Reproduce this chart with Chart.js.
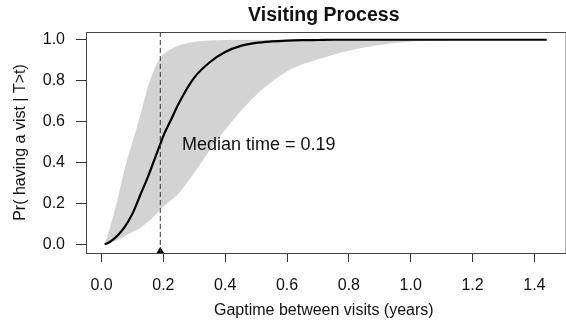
<!DOCTYPE html>
<html>
<head>
<meta charset="utf-8">
<script src="https://cdn.jsdelivr.net/npm/chart.js@4/dist/chart.umd.min.js"></script>
<style>
  html, body { margin: 0; padding: 0; background: #fff; }
  #wrap { width: 566px; height: 322px; }
</style>
</head>
<body>
<div id="wrap"><canvas id="visitChart" width="566" height="322"></canvas></div>
<script>
// gap time grid (years) and the read-off probabilities
const gapTime = [0.01, 0.025, 0.05, 0.075, 0.1, 0.125, 0.15, 0.175, 0.19, 0.2, 0.225, 0.25, 0.3, 0.35, 0.4, 0.45, 0.5, 0.55, 0.6, 0.65, 0.7, 0.75, 0.8, 0.85, 0.9, 0.95, 1.0, 1.05, 1.1, 1.2, 1.3, 1.44];
const visitProb = [0.0, 0.01, 0.04, 0.085, 0.15, 0.24, 0.33, 0.43, 0.49, 0.53, 0.61, 0.69, 0.815, 0.89, 0.94, 0.97, 0.985, 0.992, 0.996, 0.998, 0.999, 1.0, 1.0, 1.0, 1.0, 1.0, 1.0, 1.0, 1.0, 1.0, 1.0, 1.0];
const upperBand = [0.0, 0.07, 0.21, 0.37, 0.5, 0.63, 0.77, 0.87, 0.91, 0.93, 0.955, 0.972, 0.99, 0.996, 0.999, 1.0, 1.0, 1.0, 1.0, 1.0, 1.0, 1.0, 1.0, 1.0, 1.0, 1.0, 1.0, 1.0, 1.0, 1.0, 1.0, 1.0];
const lowerBand = [0.0, 0.008, 0.02, 0.04, 0.06, 0.08, 0.11, 0.145, 0.17, 0.185, 0.215, 0.25, 0.35, 0.46, 0.56, 0.65, 0.73, 0.795, 0.845, 0.88, 0.905, 0.927, 0.946, 0.962, 0.975, 0.984, 0.991, 0.995, 0.998, 0.9995, 1.0, 1.0];
const medianTime = 0.19;
const xTicks = [0.0, 0.2, 0.4, 0.6, 0.8, 1.0, 1.2, 1.4];
const yTicks = [0.0, 0.2, 0.4, 0.6, 0.8, 1.0];

const FONT = "'Liberation Sans', Arial, sans-serif";
const INK = "#111";

const toPoints = ys => gapTime.map((x, i) => ({ x: x, y: ys[i] }));

// dashed median line, box and the median label
const extras = {
    id: "extras",
    afterDatasetsDraw(chart) {
        const { ctx, chartArea, scales } = chart;
        const mx = scales.x.getPixelForValue(medianTime);
        ctx.save();
        ctx.strokeStyle = "#333";
        ctx.lineWidth = 1;
        ctx.setLineDash([5, 3]);
        ctx.beginPath();
        ctx.moveTo(mx, chartArea.top);
        ctx.lineTo(mx, chartArea.bottom);
        ctx.stroke();
        ctx.setLineDash([]);
        ctx.strokeStyle = "#444";
        ctx.strokeRect(chartArea.left + 0.5, chartArea.top + 0.5, chartArea.right - chartArea.left + 4, chartArea.bottom - chartArea.top);
        ctx.fillStyle = INK;
        ctx.font = "18px " + FONT;
        ctx.textAlign = "left";
        ctx.textBaseline = "middle";
        ctx.fillText("Median time = " + medianTime.toFixed(2), scales.x.getPixelForValue(0.26), scales.y.getPixelForValue(0.485));
        ctx.restore();
    }
};

new Chart(document.getElementById("visitChart").getContext("2d"), {
    type: "line",
    data: {
        datasets: [
            {
                label: "curve",
                data: toPoints(visitProb),
                borderColor: "#000",
                borderWidth: 2.2,
                pointRadius: 0,
                cubicInterpolationMode: "monotone",
                fill: false
            },
            {
                label: "median",
                data: [{ x: medianTime, y: -0.033 }],
                showLine: false,
                pointStyle: "triangle",
                pointRadius: 4.4,
                backgroundColor: "#000",
                borderColor: "#000",
                borderWidth: 0,
                clip: false
            },
            {
                label: "upper",
                data: toPoints(upperBand),
                borderWidth: 0,
                pointRadius: 0,
                cubicInterpolationMode: "monotone",
                backgroundColor: "#d3d3d3",
                fill: "+1"
            },
            {
                label: "lower",
                data: toPoints(lowerBand),
                borderWidth: 0,
                pointRadius: 0,
                cubicInterpolationMode: "monotone",
                fill: false
            }
        ]
    },
    options: {
        responsive: false,
        animation: false,
        layout: { padding: { left: 0, right: 0, top: 0, bottom: 0 } },
        plugins: {
            legend: { display: false },
            tooltip: { enabled: false },
            title: {
                display: true,
                text: "Visiting Process",
                fullSize: false,
                color: INK,
                font: { family: FONT, size: 19.5, weight: "bold" },
                padding: { top: 4, bottom: 4.6 }
            }
        },
        scales: {
            x: {
                type: "linear",
                min: -0.0503,
                max: 1.488,
                border: { display: false },
                grid: { drawOnChartArea: false, tickLength: 9, color: "#333" },
                afterBuildTicks: s => { s.ticks = xTicks.map(v => ({ value: v })); },
                afterFit: s => { s.height = 69; },
                ticks: {
                    color: INK,
                    padding: 14,
                    maxRotation: 0,
                    font: { family: FONT, size: 16 },
                    callback: v => v.toFixed(1)
                },
                title: {
                    display: true,
                    text: "Gaptime between visits (years)",
                    color: INK,
                    font: { family: FONT, size: 16 },
                    padding: { top: 0, bottom: 2 }
                }
            },
            y: {
                min: -0.0425,
                max: 1.038,
                border: { display: false },
                grid: { drawOnChartArea: false, tickLength: 10, color: "#333" },
                afterBuildTicks: s => { s.ticks = yTicks.map(v => ({ value: v })); },
                afterFit: s => { s.width = 86; },
                ticks: {
                    color: INK,
                    padding: 11,
                    font: { family: FONT, size: 16 },
                    callback: v => v.toFixed(1)
                },
                title: {
                    display: true,
                    text: "Pr( having a vist | T>t)",
                    color: INK,
                    font: { family: FONT, size: 16 },
                    padding: { top: 11, bottom: 0 }
                }
            }
        }
    },
    plugins: [extras]
});
</script>
</body>
</html>
